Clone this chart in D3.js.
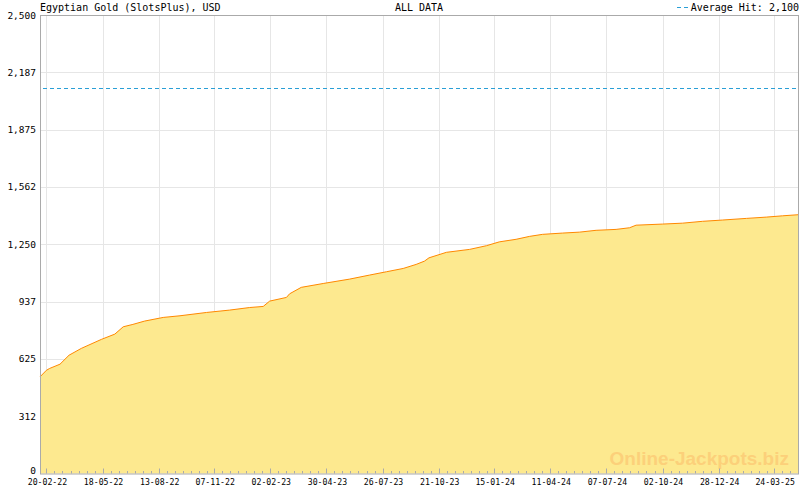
<!DOCTYPE html>
<html>
<head>
<meta charset="utf-8">
<script src="https://cdn.jsdelivr.net/npm/d3@7"></script>
<style>
 body { margin: 0; background: #fff; }
 text { font-family: "DejaVu Sans Mono", monospace; fill: #000; }
</style>
</head>
<body>
<script>
'use strict'
// jackpot history
const dates = ["2022-02-10","2022-02-20","2022-02-25","2022-03-13","2022-03-27","2022-04-15","2022-05-16",
 "2022-06-06","2022-06-19","2022-07-04","2022-07-22","2022-08-20","2022-09-15","2022-10-26","2022-12-01",
 "2023-01-01","2023-01-22","2023-02-01","2023-02-27","2023-03-04","2023-03-22","2023-04-25","2023-06-05",
 "2023-07-06","2023-08-01","2023-08-27","2023-09-16","2023-09-29","2023-10-06","2023-11-02","2023-12-08",
 "2024-01-03","2024-01-23","2024-02-18","2024-03-10","2024-03-30","2024-04-30","2024-05-26","2024-06-21",
 "2024-07-22","2024-08-12","2024-08-22","2024-10-02","2024-11-02","2024-12-03","2025-01-03","2025-02-09",
 "2025-03-12","2025-04-06","2025-04-30"];
const amounts = [527,563,573,596,645,682,731,760,800,813,831,851,860,878,891,905,911,940,960,980,1015,1036,
 1060,1082,1100,1118,1140,1158,1176,1206,1222,1242,1263,1277,1293,1304,1311,1316,1326,1331,1340,1354,1360,
 1365,1375,1382,1391,1398,1405,1411];
const averageHit = 2100;
const xTickDates = ["2022-02-20","2022-05-18","2022-08-13","2022-11-07","2023-02-02","2023-04-30","2023-07-26",
 "2023-10-21","2024-01-15","2024-04-11","2024-07-07","2024-10-02","2024-12-28","2025-03-24"];
const yTickValues = [0,312.5,625,937.5,1250,1562.5,1875,2187.5,2500];
const yTickLabels = ["0","312","625","937","1,250","1,562","1,875","2,187","2,500"];

const width = 800, height = 490;
const plotLeft = 40, plotRight = 798, plotTop = 15, plotBottom = 473.5;
const parse = d3.utcParse("%Y-%m-%d");
const fmt = d3.utcFormat("%d-%m-%y");

const data = dates.map((d, i) => ({date: parse(d), value: amounts[i]}));

const x = d3.scaleUtc().domain([parse("2022-02-10"), parse("2025-04-30")]).range([plotLeft, plotRight]);
const y = d3.scaleLinear().domain([0, 2500]).range([plotBottom, plotTop]);

const svg = d3.select("body").append("svg")
 .attr("width", width)
 .attr("height", height);

// grid
const majors = xTickDates.map(parse);
svg.append("g").selectAll("line").data(yTickValues.slice(1, -1)).join("line")
 .attr("x1", plotLeft).attr("x2", plotRight)
 .attr("y1", d => Math.round(y(d)) + 0.5).attr("y2", d => Math.round(y(d)) + 0.5)
 .attr("stroke", "#e6e6e6");
svg.append("g").selectAll("line").data(majors).join("line")
 .attr("x1", d => Math.round(x(d)) + 0.5).attr("x2", d => Math.round(x(d)) + 0.5)
 .attr("y1", plotTop).attr("y2", plotBottom)
 .attr("stroke", "#e6e6e6");

// area + line
const area = d3.area().x(d => x(d.date)).y0(y(0)).y1(d => y(d.value));
const line = d3.line().x(d => x(d.date)).y(d => y(d.value));
svg.append("path").datum(data).attr("d", area).attr("fill", "#fde98f");
svg.append("path").datum(data).attr("d", line)
 .attr("fill", "none").attr("stroke", "#ff8800").attr("stroke-width", 1);

// average hit line
svg.append("line")
 .attr("x1", plotLeft + 3).attr("x2", plotRight)
 .attr("y1", Math.round(y(averageHit)) + 0.5).attr("y2", Math.round(y(averageHit)) + 0.5)
 .attr("stroke", "#2a9fd6").attr("stroke-dasharray", "4,3");

// watermark
svg.append("text")
 .attr("x", 789).attr("y", 465)
 .attr("text-anchor", "end")
 .style("font-family", "'Liberation Sans', Arial, sans-serif")
 .style("font-weight", "bold").style("font-size", "19px")
 .style("fill", "#fcd07a")
 .text("Online-Jackpots.biz");

// frame
svg.append("rect")
 .attr("x", plotLeft + 0.5).attr("y", plotTop + 0.5)
 .attr("width", plotRight - plotLeft).attr("height", plotBottom - plotTop)
 .attr("fill", "none").attr("stroke", "#aaaaaa");

// x ticks: majors with 6 minors between
const step = (x(majors[1]) - x(majors[0])) / 7;
const minorX = [];
majors.forEach(m => {
 for (let k = 1; k < 7; k++) {
  const px = x(m) + k * step;
  if (px < plotRight) minorX.push(px);
 }
});
svg.append("g").selectAll("line").data(minorX).join("line")
 .attr("x1", d => Math.round(d) + 0.5).attr("x2", d => Math.round(d) + 0.5)
 .attr("y1", plotBottom - 2.5).attr("y2", plotBottom)
 .attr("stroke", "#aaaaaa");
svg.append("g").selectAll("line").data(majors).join("line")
 .attr("x1", d => Math.round(x(d)) + 0.5).attr("x2", d => Math.round(x(d)) + 0.5)
 .attr("y1", plotBottom - 5).attr("y2", plotBottom)
 .attr("stroke", "#aaaaaa");
svg.append("g").selectAll("text").data(majors).join("text")
 .attr("x", d => x(d) + 1).attr("y", 484.5)
 .attr("text-anchor", "middle")
 .style("font-size", "8.2px")
 .text(d => fmt(d));

// y labels
svg.append("g").selectAll("text").data(yTickValues).join("text")
 .attr("x", 36).attr("y", d => d === 0 ? 474 : y(d) + 3.5)
 .attr("text-anchor", "end")
 .style("font-size", "9.5px")
 .text((d, i) => yTickLabels[i]);

// header
svg.append("text").attr("x", 40).attr("y", 10.5).style("font-size", "10px")
 .text("Egyptian Gold (SlotsPlus), USD");
svg.append("text").attr("x", (plotLeft + plotRight) / 2).attr("y", 10.5)
 .attr("text-anchor", "middle").style("font-size", "10px")
 .text("ALL DATA");
svg.append("text").attr("x", 799).attr("y", 10.5)
 .attr("text-anchor", "end").style("font-size", "10px")
 .text("Average Hit: 2,100");
svg.append("line")
 .attr("x1", 677).attr("x2", 689).attr("y1", 7.5).attr("y2", 7.5)
 .attr("stroke", "#2a9fd6").attr("stroke-dasharray", "4,3");
</script>
</body>
</html>
